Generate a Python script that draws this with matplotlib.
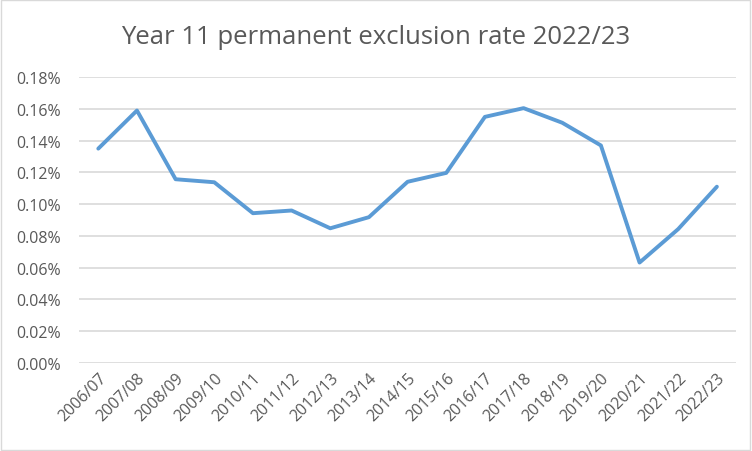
import numpy as np
import matplotlib.pyplot as plt
from matplotlib.ticker import FuncFormatter
from matplotlib.patches import Rectangle

years = ['2006/07', '2007/08', '2008/09', '2009/10', '2010/11', '2011/12',
         '2012/13', '2013/14', '2014/15', '2015/16', '2016/17', '2017/18',
         '2018/19', '2019/20', '2020/21', '2021/22', '2022/23']
rates = [0.135, 0.159, 0.1157, 0.1138, 0.0943, 0.096, 0.0848, 0.0918,
         0.1141, 0.1197, 0.155, 0.1605, 0.1513, 0.137, 0.0632, 0.0843, 0.111]

plt.rcParams['font.family'] = ['Open Sans', 'DejaVu Sans']

fig = plt.figure(figsize=(7.52, 4.52), dpi=100)
ax = fig.add_axes([0.105, 0.195, 0.874, 0.632])

x = np.arange(len(years))
ax.plot(x, rates, color='#5B9BD5', linewidth=2.8, solid_capstyle='round',
        solid_joinstyle='round')

ax.set_xlim(-0.5, len(years) - 0.5)
ax.set_ylim(0, 0.18)
ax.set_yticks(np.arange(0, 0.181, 0.02))
ax.yaxis.set_major_formatter(FuncFormatter(lambda v, p: f'{v:.2f}%'))
ax.set_xticks(x)
ax.set_xticklabels(years, rotation=45, ha='right', rotation_mode='anchor')

ax.grid(axis='y', color='#D9D9D9', linewidth=1.2)
ax.set_axisbelow(True)
for s in ax.spines.values():
    s.set_visible(False)
ax.tick_params(length=0, labelsize=11.5, colors='#595959')
ax.tick_params(axis='y', pad=13)
ax.tick_params(axis='x', pad=5)

fig.suptitle('Year 11 permanent exclusion rate 2022/23', x=0.5, y=0.944,
             fontsize=18.5, color='#595959')

# chart area border
fig.patches.append(Rectangle((0.001, 0.002), 0.997, 0.995, transform=fig.transFigure,
                             fill=False, edgecolor='#D9D9D9', linewidth=1))

fig.savefig('out.png', dpi=100)
